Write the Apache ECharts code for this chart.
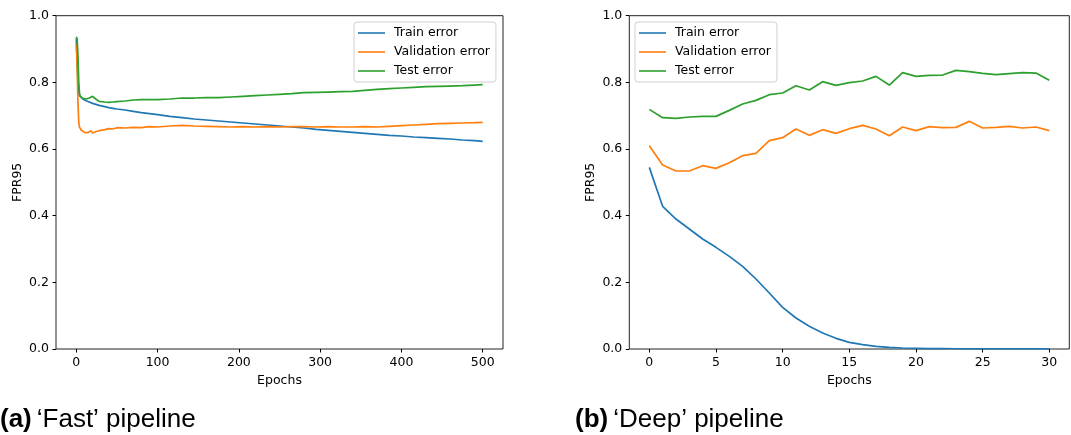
<!DOCTYPE html>
<html>
<head>
<meta charset="utf-8">
<script src="https://cdn.jsdelivr.net/npm/echarts@6/dist/echarts.min.js"></script>
<style>
html,body{margin:0;padding:0;background:#fff;}
#chart{width:1071px;height:435px;}
</style>
</head>
<body>
<div id="chart"></div>
<script>
// ---- Data: 'Fast' pipeline ----
const fastEpochs = [0,1,2,3,4,5,6,8,10,12,14,16,18,20,22,24,26,28,30,35,40,45,50,60,70,80,90,100,115,130,145,160,175,190,205,220,235,250,265,280,295,310,325,340,355,370,385,400,415,430,445,460,475,490,500];
const fastTrain = [0.932,0.86,0.80,0.77,0.760,0.756,0.754,0.750,0.748,0.745,0.743,0.741,0.739,0.737,0.736,0.734,0.733,0.731,0.730,0.727,0.724,0.722,0.720,0.717,0.713,0.709,0.706,0.703,0.698,0.694,0.690,0.687,0.684,0.681,0.678,0.675,0.672,0.669,0.666,0.663,0.659,0.656,0.653,0.650,0.647,0.644,0.641,0.639,0.636,0.634,0.632,0.630,0.627,0.625,0.623];
const fastVal = [0.917,0.85,0.74,0.68,0.665,0.660,0.657,0.652,0.650,0.652,0.649,0.651,0.655,0.648,0.646,0.652,0.650,0.655,0.656,0.658,0.661,0.660,0.664,0.663,0.665,0.664,0.667,0.666,0.669,0.671,0.669,0.668,0.667,0.666,0.667,0.666,0.667,0.666,0.667,0.667,0.666,0.667,0.666,0.666,0.667,0.666,0.668,0.670,0.672,0.674,0.676,0.677,0.678,0.679,0.680];
const fastTest = [0.937,0.93,0.88,0.80,0.765,0.758,0.756,0.752,0.754,0.750,0.748,0.753,0.757,0.758,0.756,0.750,0.745,0.743,0.742,0.741,0.740,0.741,0.742,0.744,0.747,0.748,0.748,0.748,0.750,0.753,0.753,0.754,0.754,0.756,0.758,0.760,0.762,0.764,0.766,0.769,0.770,0.771,0.772,0.773,0.776,0.779,0.781,0.783,0.785,0.787,0.788,0.789,0.790,0.792,0.793];

// ---- Data: 'Deep' pipeline ----
const deepEpochs = [0,1,2,3,4,5,6,7,8,9,10,11,12,13,14,15,16,17,18,19,20,21,22,23,24,25,26,27,28,29,30];
const deepTrain = [0.545,0.428,0.390,0.360,0.330,0.305,0.278,0.248,0.210,0.168,0.125,0.093,0.068,0.048,0.032,0.020,0.013,0.008,0.005,0.003,0.002,0.001,0.001,0.0008,0.0006,0.0005,0.0004,0.0003,0.0003,0.0002,0.0002];
const deepVal = [0.610,0.552,0.534,0.534,0.550,0.542,0.559,0.580,0.587,0.625,0.634,0.660,0.641,0.658,0.647,0.661,0.671,0.660,0.640,0.666,0.655,0.667,0.664,0.665,0.683,0.663,0.665,0.668,0.663,0.666,0.655];
const deepTest = [0.719,0.694,0.692,0.696,0.698,0.698,0.716,0.735,0.746,0.763,0.768,0.790,0.777,0.802,0.791,0.799,0.804,0.818,0.792,0.829,0.818,0.821,0.822,0.836,0.832,0.827,0.823,0.826,0.829,0.828,0.806];

// ---- Labels ----
const seriesNames = ['Train error','Validation error','Test error'];
const colors = ['#1f77b4','#ff7f0e','#2ca02c'];
const fastTicks = [0,100,200,300,400,500];
const deepTicks = [0,5,10,15,20,25,30];
const yLabel = 'FPR95';
const xLabel = 'Epochs';
const captionA = ['(a)', '\u2018Fast\u2019 pipeline'];
const captionB = ['(b)', '\u2018Deep\u2019 pipeline'];

const zip = (xs, ys) => xs.map((x, i) => [x, ys[i]]);
const FONT = 'DejaVu Sans';
const FS = 12.5;

function xAxisCfg(gridIndex, min, max, ticks) {
  return {
    type: 'value', gridIndex, min, max,
    name: xLabel, nameLocation: 'middle', nameGap: 22,
    nameTextStyle: {fontFamily: FONT, fontSize: FS, color: '#000'},
    axisLine: {show: false, onZero: false},
    splitLine: {show: false},
    axisTick: {show: true, length: 3.5, customValues: ticks, lineStyle: {color: '#000', width: 1}},
    axisLabel: {customValues: ticks, margin: 7, fontFamily: FONT, fontSize: FS, color: '#000'}
  };
}
function yAxisCfg(gridIndex) {
  return {
    type: 'value', gridIndex, min: 0, max: 1, interval: 0.2,
    name: yLabel, nameLocation: 'middle', nameGap: 32, nameRotate: 90,
    nameTextStyle: {fontFamily: FONT, fontSize: FS, color: '#000'},
    axisLine: {show: false, onZero: false},
    splitLine: {show: false},
    axisTick: {show: true, length: 3.5, lineStyle: {color: '#000', width: 1}},
    axisLabel: {margin: 7, fontFamily: FONT, fontSize: FS, color: '#000', formatter: v => v.toFixed(1)}
  };
}
function legendCfg(left) {
  return {
    left, top: 22, orient: 'vertical',
    data: seriesNames,
    icon: 'rect', itemWidth: 27, itemHeight: 1.6, itemGap: 5,
    padding: [4, 6, 4, 4],
    backgroundColor: '#fff', borderColor: '#d0d0d0', borderWidth: 1, borderRadius: 3,
    textStyle: {fontFamily: FONT, fontSize: FS, color: '#000', lineHeight: 14, padding: [0, 0, 0, 4]},
    selectedMode: false
  };
}
function lineSeries(name, xi, data, color) {
  return {
    type: 'line', name, xAxisIndex: xi, yAxisIndex: xi, data,
    showSymbol: false, symbol: 'none', smooth: false,
    lineStyle: {width: 1.7, color}, itemStyle: {color},
    animation: false, silent: true
  };
}

const chart = echarts.init(document.getElementById('chart'), null, {renderer: 'canvas'});
const capRich = {
  b: {fontFamily: 'Liberation Sans', fontSize: 26, fontWeight: 'bold', color: '#000'},
  n: {fontFamily: 'Liberation Sans', fontSize: 26, fontWeight: 'normal', color: '#000', padding: [0, 0, 0, 5]}
};
chart.setOption({
  animation: false,
  backgroundColor: '#fff',
  grid: [
    {left: 56, top: 15.7, width: 447, height: 333.3, show: true, borderColor: '#222', borderWidth: 1, backgroundColor: 'transparent'},
    {left: 629.3, top: 15.7, width: 440, height: 333.3, show: true, borderColor: '#222', borderWidth: 1, backgroundColor: 'transparent'}
  ],
  xAxis: [xAxisCfg(0, -25, 525, fastTicks), xAxisCfg(1, -1.5, 31.5, deepTicks)],
  yAxis: [yAxisCfg(0), yAxisCfg(1)],
  legend: [legendCfg(354), legendCfg(635)],
  title: [
    {left: 0, top: 407, padding: 0, text: '{b|' + captionA[0] + '}{n|' + captionA[1] + '}', textStyle: {fontWeight: 'normal', rich: capRich}},
    {left: 575, top: 407, padding: 0, text: '{b|' + captionB[0] + '}{n|' + captionB[1] + '}', textStyle: {fontWeight: 'normal', rich: capRich}}
  ],
  series: [
    lineSeries(seriesNames[0], 0, zip(fastEpochs, fastTrain), colors[0]),
    lineSeries(seriesNames[1], 0, zip(fastEpochs, fastVal), colors[1]),
    lineSeries(seriesNames[2], 0, zip(fastEpochs, fastTest), colors[2]),
    lineSeries(seriesNames[0], 1, zip(deepEpochs, deepTrain), colors[0]),
    lineSeries(seriesNames[1], 1, zip(deepEpochs, deepVal), colors[1]),
    lineSeries(seriesNames[2], 1, zip(deepEpochs, deepTest), colors[2])
  ]
});
</script>
</body>
</html>
